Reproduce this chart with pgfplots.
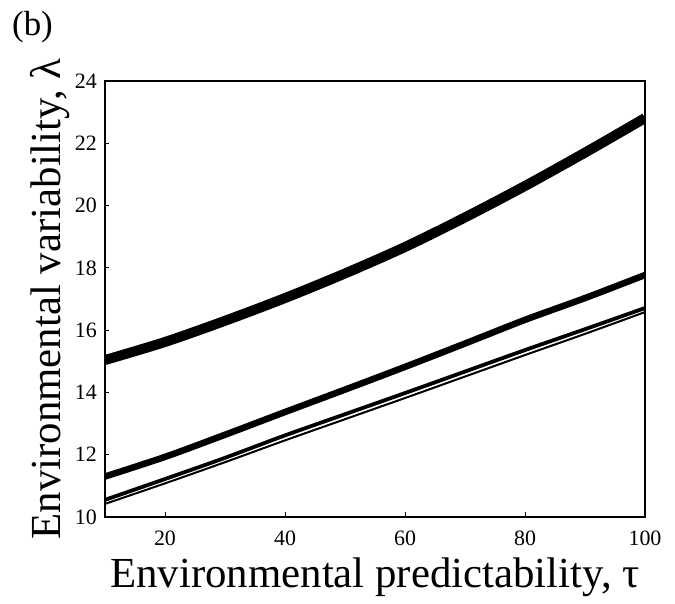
\documentclass[border=0pt]{standalone}
\usepackage{fontspec}
\setmainfont{Liberation Serif}
\usepackage{pgfplots}
\pgfplotsset{compat=1.18}

\begin{document}
\begin{tikzpicture}
  \begin{axis}[
    name=ax,
    scale only axis,
    width=540bp, height=436bp,
    xmin=10, xmax=100,
    ymin=10, ymax=24,
    xtick={20,40,60,80,100},
    ytick={10,12,...,24},
    tick align=inside,
    xtick pos=bottom,
    ytick pos=left,
    major tick length=4.5bp,
    every tick/.style={black, line width=0.8bp},
    axis line style={line width=2.5bp},
    /pgf/number format/assume math mode=true,
    tick label style={font=\fontsize{22}{26}\selectfont},
    yticklabel style={inner sep=0pt, xshift=-8bp},
    xticklabel style={inner sep=0pt, yshift=-14bp},
    label style={font=\fontsize{43}{50}\selectfont},
    xlabel={Environmental predictability, τ},
    ylabel={Environmental variability, λ},
    xlabel style={at={(axis description cs:0.5,-0.1628)}, anchor=base},
    ylabel style={at={(axis description cs:-0.0833,0.5)}, anchor=base},
  ]
    % thickest curve
    \addplot[black, line width=10bp, smooth] coordinates {
      (10,15.04) (20,15.62) (30,16.30) (40,17.03) (50,17.82)
      (60,18.67) (70,19.62) (80,20.63) (90,21.70) (100,22.81)};
    \addplot[black, line width=6.5bp, smooth] coordinates {
      (10,11.30) (20,11.93) (30,12.64) (40,13.37) (50,14.09)
      (60,14.82) (70,15.57) (80,16.33) (90,17.03) (100,17.77)};
    \addplot[black, line width=3.8bp, smooth] coordinates {
      (10,10.55) (20,11.22) (30,11.90) (40,12.62) (50,13.30)
      (60,13.98) (70,14.67) (80,15.36) (90,16.03) (100,16.71)};
    \addplot[black, line width=2bp, smooth] coordinates {
      (10,10.42) (20,11.08) (30,11.76) (40,12.46) (50,13.14)
      (60,13.82) (70,14.51) (80,15.20) (90,15.88) (100,16.58)};
  \end{axis}
  \node[anchor=base west, inner sep=0pt, font=\fontsize{35}{40}\selectfont]
    at ([xshift=-93bp, yshift=45bp]ax.north west) {(b)};
  \pgfresetboundingbox
  \useasboundingbox ([xshift=-105bp, yshift=-87bp]ax.south west)
    rectangle ([xshift=30bp, yshift=81bp]ax.north east);
\end{tikzpicture}
\end{document}
